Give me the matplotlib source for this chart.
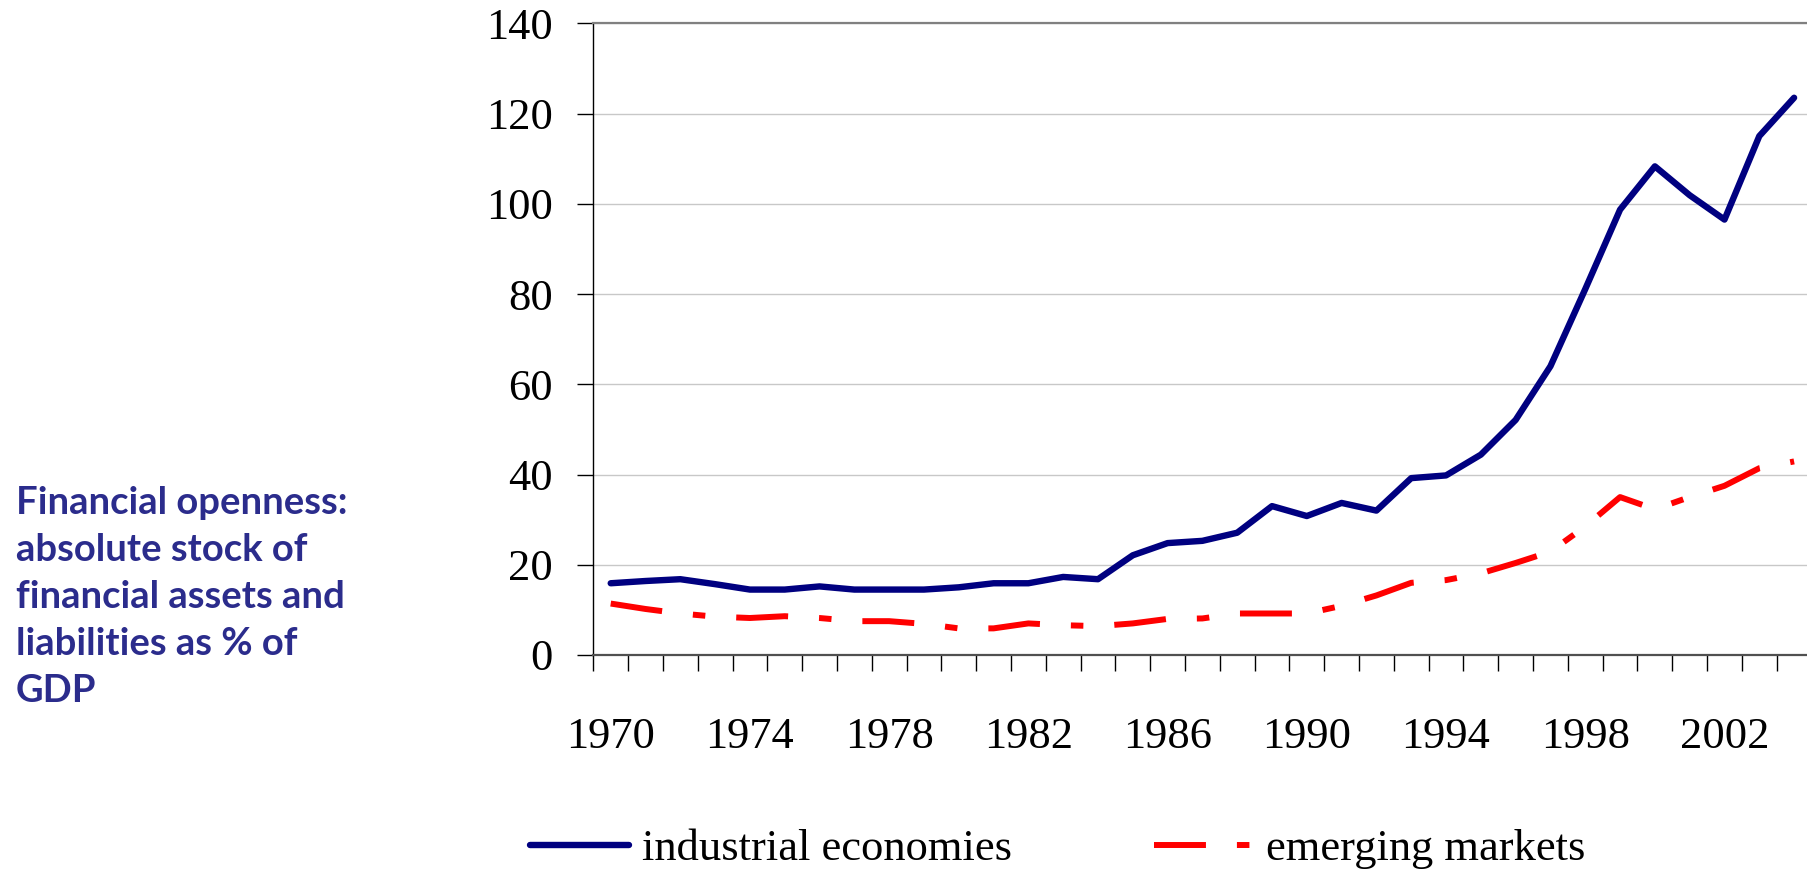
import matplotlib
matplotlib.use("Agg")
import matplotlib.pyplot as plt
import numpy as np

plt.rcParams['lines.scale_dashes'] = False

years = list(range(1970, 2005))
industrial = [15.9, 16.4, 16.8, 15.7, 14.5, 14.5, 15.2, 14.5, 14.5, 14.5,
              15.0, 15.9, 15.9, 17.3, 16.8, 22.1, 24.8, 25.3, 27.1, 33.0,
              30.8, 33.7, 32.0, 39.2, 39.8, 44.4, 52.1, 64.0, 81.1, 98.7,
              108.3, 101.9, 96.5, 115.0, 123.5]
emerging = [11.4, 10.2, 9.2, 8.5, 8.2, 8.6, 8.2, 7.5, 7.5, 6.9,
            5.9, 5.9, 7.0, 6.6, 6.4, 7.0, 8.0, 8.1, 9.2, 9.2,
            9.2, 10.9, 13.2, 16.0, 16.6, 18.1, 20.4, 22.9, 28.5, 35.0,
            32.3, 35.0, 37.5, 41.4, 42.9]
year_labels = [str(y) for y in range(1970, 2003, 4)]
y_ticks = [0, 20, 40, 60, 80, 100, 120, 140]
series_names = ["industrial economies", "emerging markets"]
side_text = ("Financial openness:\nabsolute stock of\nfinancial assets and\n"
             "liabilities as % of\nGDP")

W, H = 1807, 875
fig = plt.figure(figsize=(W / 100, H / 100), dpi=100)
ax = fig.add_axes([593.3 / W, 1 - 655 / H, (1811.5 - 593.3) / W, (655 - 23.3) / H])

x = np.arange(len(years))
l1, = ax.plot(x, industrial, color='#000080', lw=4.6, solid_capstyle='round',
              solid_joinstyle='round', label=series_names[0], zorder=3)
l2, = ax.plot(x, emerging, color='#FF0000', lw=4.3,
              linestyle=(0, (37.4, 22.3, 9.0, 22.3)), dash_capstyle='butt',
              label=series_names[1], zorder=3)

ax.set_xlim(-0.5, len(years) - 0.5)
ax.set_ylim(0, 140)
ax.set_yticks(y_ticks)
ax.yaxis.grid(True, color='#c8c8c8', lw=1.0)
ax.set_axisbelow(True)

# major ticks at category boundaries, labels via minor ticks at centres
ax.set_xticks(np.arange(-0.5, len(years) + 0.5, 1.0))
ax.set_xticklabels([])
label_pos = [years.index(int(s)) for s in year_labels]
ax.set_xticks(label_pos, minor=True)
ax.set_xticklabels(year_labels, minor=True)

serif = 'Liberation Serif'
ax.tick_params(axis='x', which='major', direction='out', length=11.5, width=1.0, color='black')
ax.tick_params(axis='x', which='minor', length=0, pad=44.6, labelsize=32)
ax.tick_params(axis='y', which='major', direction='out', length=11.5, width=1.0,
               color='black', pad=17.8, labelsize=32)
for lab in ax.get_xticklabels(minor=True) + ax.get_yticklabels():
    lab.set_fontfamily(serif)

ax.spines['right'].set_visible(False)
ax.spines['top'].set_color('#808080')
ax.spines['top'].set_linewidth(1.6)
ax.spines['bottom'].set_color('#505050')
ax.spines['bottom'].set_linewidth(1.6)
ax.spines['left'].set_color('black')
ax.spines['left'].set_linewidth(1.0)

fig.text(16 / W, 1 - 486 / H, side_text, ha='left', va='top', color='#2B2C8C',
         fontfamily='Lato', fontweight='bold', fontsize=27.5, linespacing=1.46)

fig.legend([l1, l2], series_names, loc='center left',
           bbox_to_anchor=(530 / W, (H - 849) / H), ncol=2, frameon=False,
           prop={'family': serif, 'size': 32}, handlelength=2.23,
           handletextpad=0.29, columnspacing=3.2, borderpad=0, borderaxespad=0)

fig.savefig('out.png', dpi=100)
